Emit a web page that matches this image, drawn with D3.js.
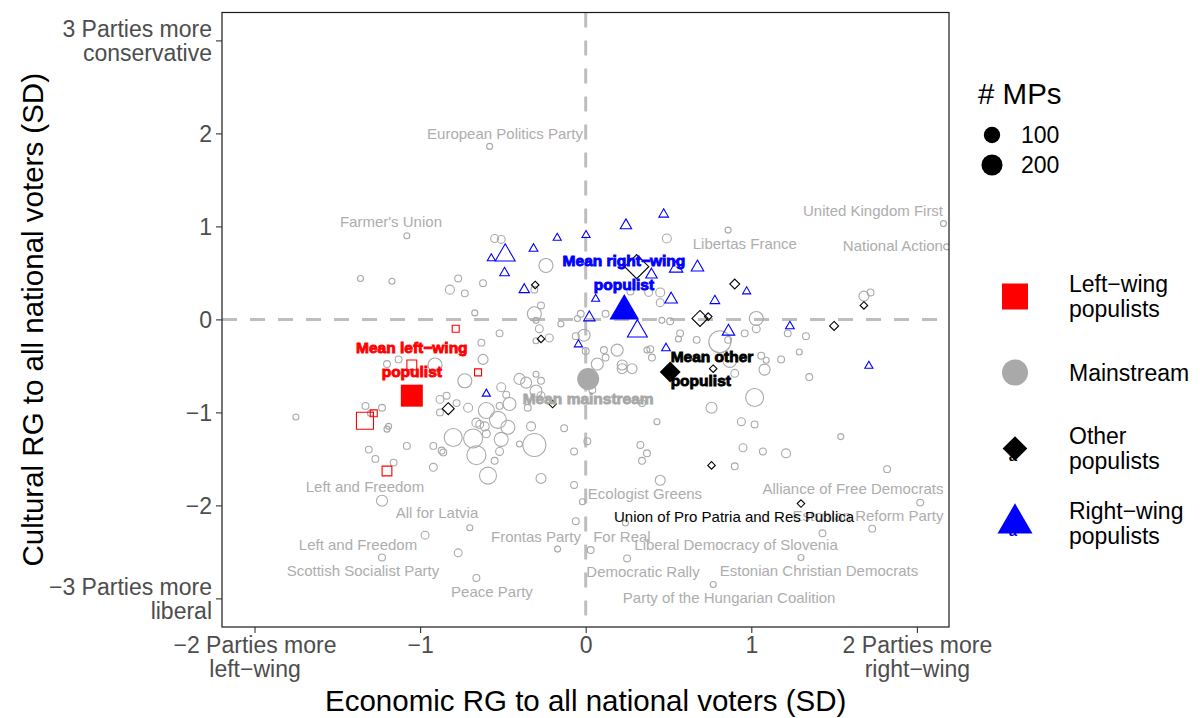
<!DOCTYPE html>
<html><head><meta charset="utf-8">
<script src="https://cdn.jsdelivr.net/npm/d3@7"></script>
<style>body{margin:0;background:#fff} svg{display:block} text{font-family:"Liberation Sans",Arial,Helvetica,sans-serif}</style>
</head><body><svg id="c" width="1200" height="718"></svg>
<script>
// ---- data: [economic RG, cultural RG, # MPs] ----
const mainstream = [
[-0.58,1.86,1],[-1.08,0.90,1],[-0.55,0.87,7],[-0.51,0.86,7],[-0.24,0.58,64],[-1.36,0.44,1],[-1.17,0.41,1],
[-0.77,0.44,3],[-0.82,0.32,13],[-0.73,0.28,3],[-0.62,0.39,3],[-0.31,0.32,3],[-0.27,0.15,3],[-0.31,0.06,64],
[-0.67,0.07,1],[-0.03,0.06,3],[-0.05,0.01,1],[-0.30,-0.01,1],[-0.15,-0.05,1],[0.49,0.87,13],[0.86,0.96,1],
[2.16,1.03,1],[2.18,0.78,1],[1.68,0.25,20],[1.72,0.29,3],[0.27,0.30,3],[0.38,0.29,7],[0.45,0.29,13],
[0.45,0.18,7],[0.12,0.06,3],[0.46,-0.01,1],[0.51,-0.02,3],[1.03,0.01,64],[1.03,-0.10,7],[1.22,-0.15,3],
[1.33,-0.18,3],[0.96,-0.15,3],[0.81,-0.24,223],[0.86,-0.22,3],[0.67,-0.22,3],[0.57,-0.15,3],[0.56,-0.21,1],
[1.29,-0.35,1],[1.18,-0.43,3],[1.06,-0.39,3],[1.09,-0.44,1],[1.08,-0.54,29],[1.35,-0.62,3],[1.02,-0.84,131],
[0.87,-0.44,64],[0.90,-0.58,7],[0.76,-0.95,29],[0.43,-1.10,1],[0.94,-1.10,7],[1.02,-1.13,3],[1.54,-1.26,1],
[0.01,-1.31,3],[0.33,-1.35,3],[0.37,-1.44,3],[0.34,-1.52,3],[0.95,-1.38,7],[1.07,-1.42,3],[1.21,-1.44,13],
[0.90,-1.58,3],[1.82,-1.61,3],[0.45,-1.73,20],[2.02,-1.97,3],[0.24,-2.19,1],[1.43,-2.30,3],[1.73,-2.25,3],
[0.03,-2.48,3],[0.25,-2.57,3],[1.30,-2.56,1],[0.77,-2.85,1],[-0.02,-1.96,1],[-0.52,-0.15,3],[-0.63,-0.25,3],
[-0.62,-0.43,20],[-0.28,-0.10,7],[-0.22,-0.20,7],[-0.30,-0.23,1],[-0.06,-0.18,3],[-0.01,-0.17,39],[0.00,-0.34,3],
[-1.20,-0.48,3],[-1.13,-0.43,3],[-0.91,-0.49,64],[-0.73,-0.66,64],[-0.40,-0.64,29],[-0.36,-0.68,29],
[-0.27,-0.66,3],[-0.30,-0.59,1],[-0.51,-0.73,13],[-0.48,-0.81,3],[-0.30,-0.77,39],[-0.27,-0.82,7],
[-1.75,-1.05,1],[-1.33,-0.93,3],[-1.23,-0.95,3],[-1.30,-1.01,1],[-1.20,-1.18,1],[-1.19,-1.15,1],
[-1.31,-1.40,3],[-1.27,-1.50,3],[-1.16,-1.54,3],[-1.08,-1.36,3],[-0.92,-1.36,3],[-0.92,-1.59,7],
[-1.23,-1.95,29],[-0.88,-0.86,7],[-0.84,-0.82,3],[-0.78,-0.90,3],[-0.88,-1.00,3],[-0.71,-0.95,13],
[-0.60,-0.98,94],[-0.53,-1.08,112],[-0.46,-0.91,50],[-0.52,-0.93,3],[-0.47,-1.16,64],[-0.66,-1.11,13],
[-0.64,-1.13,7],[-0.61,-1.15,13],[-0.60,-1.23,7],[-0.80,-1.27,131],[-0.68,-1.28,152],[-0.51,-1.29,64],
[-0.66,-1.46,152],[-0.31,-1.35,250],[-0.40,-1.34,1],[-0.35,-0.95,3],[-0.33,-1.15,13],[-0.13,-1.17,3],
[-0.87,-1.41,3],[-0.86,-1.43,3],[-0.52,-1.42,7],[-0.55,-1.52,3],[-0.59,-1.68,112],[-0.27,-1.71,20],
[-0.07,-1.42,3],[-0.07,-1.78,3],[-0.06,-2.17,3],[-0.70,-2.24,1],[-0.97,-2.32,7],[-0.17,-2.47,1],
[-0.77,-2.51,7],[-1.23,-2.56,3],[-0.66,-2.78,3],[0.19,-0.33,39],[0.11,-0.33,3],[0.12,-0.41,3],
[0.07,-0.48,39],[0.22,-0.49,20],[0.22,-0.53,20],[0.28,-0.53,20],[0.39,-0.32,3],[0.40,-0.41,3],
[0.37,-0.33,1],[0.04,-0.76,3],[0.25,-0.87,3],[0.34,-0.90,3]
];
const leftPopulists = [
[-0.785,-0.10,7],[-1.05,-0.49,30],[-0.65,-0.57,7],[-1.28,-1.01,7],[-1.333,-1.09,157],[-1.20,-1.63,29]
];
const otherPopulists = [
[-0.305,0.37,1],[-0.27,-0.21,1],[-0.83,-0.96,17],[-0.20,-0.91,1],[0.308,0.567,157],[0.90,0.38,7],
[1.68,0.15,1],[0.69,0.01,48],[0.74,0.03,1],[1.50,-0.07,4],[0.77,-0.53,1],[0.76,-1.57,1],[1.30,-1.98,1]
];
const rightPopulists = [
[-0.486,0.69,75],[-0.57,0.655,1],[-0.315,0.76,2],[-0.172,0.876,1],[0.002,0.905,1],[-0.49,0.50,4],
[-0.371,0.32,6],[0.243,1.01,10],[0.471,1.13,4],[0.675,0.56,15],[0.546,0.55,20],[0.397,0.48,10],
[0.06,0.22,1],[0.516,0.215,15],[0.78,0.20,4],[0.972,0.30,1],[0.022,0.02,10],[0.312,-0.127,75],
[0.862,-0.13,15],[0.485,-0.31,2],[1.233,-0.074,2],[1.71,-0.50,1],[-0.044,-0.27,1],[-0.60,-0.80,1]
];
const meanGroups = ["Left-wing populists","Mainstream","Other populists","Right-wing populists"];
const meanX = [-1.05, 0.015, 0.51, 0.233];
const meanY = [-0.82, -0.64, -0.565, 0.09];
const meanLabels = [["Mean left−wing","populist"],["Mean mainstream"],["Mean other","populist"],["Mean right−wing","populist"]];
const meanLabelX = [-1.05, 0.015, 0.513, 0.231];
const meanLabelY = [-0.304, -0.845, -0.40, 0.639];
const partyNames = ["European Politics Party","Farmer's Union","United Kingdom First","Libertas France","National Action",
 "Left and Freedom","All for Latvia","Left and Freedom","Scottish Socialist Party","Peace Party","Frontas Party","For Real",
 "Ecologist Greens","Democratic Rally","Liberal Democracy of Slovenia","Party of the Hungarian Coalition",
 "Alliance of Free Democrats","Estonian Reform Party","Estonian Christian Democrats","Union of Pro Patria and Res Publica"];
const partyLabelX = [-0.487,-1.176,1.735,0.961,1.855,-1.333,-0.898,-1.375,-1.345,-0.566,-0.300,0.219,0.358,0.346,0.908,0.866,1.614,1.705,1.409,0.896];
const partyLabelY = [2.00,1.047,1.166,0.811,0.789,-1.802,-2.082,-2.426,-2.706,-2.932,-2.340,-2.340,-1.878,-2.716,-2.426,-2.996,-1.823,-2.114,-2.706,-2.125];
const partyIsPopulist = [0,0,0,0,0,0,0,0,0,0,0,0,0,0,0,0,0,0,0,1];
const xTicks = [-2,-1,0,1,2];
const xTickLabels = [["−2 Parties more","left−wing"],["−1"],["0"],["1"],["2 Parties more","right−wing"]];
const yTicks = [-3,-2,-1,0,1,2,3];
const yTickLabels = [["−3 Parties more","liberal"],["−2"],["−1"],["0"],["1"],["2"],["3 Parties more","conservative"]];
const sizeBreaks = [100, 200];
const legendLabels = [["Left−wing","populists"],["Mainstream"],["Other","populists"],["Right−wing","populists"]];

// ---- styles ----
const colors = {left:"#FF0000", main:"#A9A9A9", other:"#000000", right:"#0000FF"};
const groupColor = [colors.left, colors.main, colors.other, colors.right];
const groupShape = ["square","circle","diamond","triangle"];
const svg = d3.select("#c");
const L = 222, R = 949, T = 12.5, B = 627;
const x = d3.scaleLinear().domain([-(585.7-L)/165.6, (R-585.7)/165.6]).range([L, R]);
const y = d3.scaleLinear().domain([-(B-319.4)/93, (319.4-T)/93]).range([B, T]);
const rScale = d3.scaleSqrt().domain([1, 250]).range([3, 11.5]);

function hollowPath(shape, rc){
  if(shape==="triangle") return `M0,${-1.555*rc}L${1.347*rc},${0.777*rc}L${-1.347*rc},${0.777*rc}Z`;
  if(shape==="square"){const h=0.886*rc; return `M${-h},${-h}H${h}V${h}H${-h}Z`;}
  if(shape==="diamond"){const h=1.253*rc; return `M0,${-h}L${h},0L0,${h}L${-h},0Z`;}
  return d3.arc()({innerRadius:0,outerRadius:rc,startAngle:0,endAngle:2*Math.PI});
}
function filledPath(shape, rc){
  if(shape==="triangle") return `M0,${-1.555*rc}L${1.347*rc},${0.777*rc}L${-1.347*rc},${0.777*rc}Z`;
  if(shape==="square"){const h=1.0*rc; return `M${-h},${-h}H${h}V${h}H${-h}Z`;}
  if(shape==="diamond"){const h=0.95*rc; return `M0,${-h}L${h},0L0,${h}L${-h},0Z`;}
  return d3.arc()({innerRadius:0,outerRadius:rc,startAngle:0,endAngle:2*Math.PI});
}

// panel clip
svg.append("clipPath").attr("id","pc").append("rect").attr("x",L).attr("y",T).attr("width",R-L).attr("height",B-T);

// reference lines
const refG = svg.append("g").attr("clip-path","url(#pc)");
refG.append("line").attr("x1",L).attr("x2",R).attr("y1",y(0)).attr("y2",y(0))
  .attr("stroke","#BEBEBE").attr("stroke-width",3).attr("stroke-dasharray","15,13");
refG.append("line").attr("x1",x(0)).attr("x2",x(0)).attr("y1",T).attr("y2",B)
  .attr("stroke","#BEBEBE").attr("stroke-width",3).attr("stroke-dasharray","15,13");

// points
const ptG = svg.append("g").attr("clip-path","url(#pc)");
function drawGroup(data, shape, color){
  ptG.selectAll(null).data(data).enter().append("path")
    .attr("transform", d=>`translate(${x(d[0])},${y(d[1])})`)
    .attr("d", d=>hollowPath(shape, rScale(d[2])))
    .attr("fill","none").attr("stroke",color).attr("stroke-width",1.1);
}
drawGroup(mainstream,"circle",colors.main);
drawGroup(leftPopulists,"square",colors.left);
drawGroup(otherPopulists,"diamond",colors.other);
drawGroup(rightPopulists,"triangle",colors.right);

// party labels
svg.append("g").attr("clip-path","url(#pc)").selectAll("text").data(partyNames).enter().append("text")
  .attr("x",(d,i)=>x(partyLabelX[i])).attr("y",(d,i)=>y(partyLabelY[i])).attr("dy","0.36em")
  .attr("text-anchor","middle").attr("font-size",15)
  .attr("fill",(d,i)=>partyIsPopulist[i]?"#000000":"#ADADAD").text(d=>d);

// means
const meanRc = 11;
svg.append("g").selectAll("path").data(meanGroups).enter().append("path")
  .attr("transform",(d,i)=>`translate(${x(meanX[i])},${y(meanY[i])})`)
  .attr("d",(d,i)=>filledPath(groupShape[i], meanRc))
  .attr("fill",(d,i)=>groupColor[i]);
const anchors = ["middle","middle","start","middle"];
const mlG = svg.append("g");
meanLabels.forEach((lines,i)=>{
  const t = mlG.append("text").attr("text-anchor",anchors[i]).attr("font-size",15.5).attr("font-weight","bold")
    .attr("fill",groupColor[i]).attr("stroke",groupColor[i]).attr("stroke-width",0.9);
  lines.forEach((s,j)=>t.append("tspan").attr("x",x(meanLabelX[i])).attr("y",y(meanLabelY[i])+24*j).attr("dy","0.36em").text(s));
});

// panel border
svg.append("rect").attr("x",L).attr("y",T).attr("width",R-L).attr("height",B-T)
  .attr("fill","none").attr("stroke","#1a1a1a").attr("stroke-width",1.2);

// axes
const xAxis = svg.append("g").attr("transform",`translate(0,${B})`)
  .call(d3.axisBottom(x).tickValues(xTicks).tickSize(6).tickFormat(""));
const yAxis = svg.append("g").attr("transform",`translate(${L},0)`)
  .call(d3.axisLeft(y).tickValues(yTicks).tickSize(6).tickFormat(""));
[xAxis,yAxis].forEach(a=>{a.select(".domain").remove(); a.selectAll(".tick line").attr("stroke","#333333").attr("stroke-width",1.1);});
xAxis.selectAll(".tick").each(function(d,i){
  const t = d3.select(this).append("text").attr("fill","#4D4D4D").attr("font-size",23).attr("text-anchor","middle");
  xTickLabels[i].forEach((s,j)=>t.append("tspan").attr("x",0).attr("y",18+24*j).attr("dy","0.36em").text(s));
});
yAxis.selectAll(".tick").each(function(d,i){
  const lines = yTickLabels[i];
  const t = d3.select(this).append("text").attr("fill","#4D4D4D").attr("font-size",23).attr("text-anchor","end");
  const off = (lines.length-1)*12;
  lines.forEach((s,j)=>t.append("tspan").attr("x",-10).attr("y",-off+24*j).attr("dy","0.36em").text(s));
});
svg.append("text").attr("x",x(0)).attr("y",711).attr("text-anchor","middle").attr("font-size",29.5)
  .attr("fill","#000").text("Economic RG to all national voters (SD)");
svg.append("text").attr("transform",`translate(43,${(T+B)/2}) rotate(-90)`).attr("text-anchor","middle")
  .attr("font-size",29.5).attr("fill","#000").text("Cultural RG to all national voters (SD)");

// size legend
const lg = svg.append("g");
lg.append("text").attr("x",978).attr("y",104).attr("font-size",29.5).attr("fill","#000").text("# MPs");
sizeBreaks.forEach((n,i)=>{
  const cy = 135 + 30*i;
  lg.append("circle").attr("cx",992).attr("cy",cy).attr("r",rScale(n)).attr("fill","#000");
  lg.append("text").attr("x",1021).attr("y",cy).attr("dy","0.36em").attr("font-size",23).attr("fill","#000").text(n);
});
// group legend
const keyY = [296.5, 372.5, 448.5, 523.5];
meanGroups.forEach((g,i)=>{
  lg.append("path").attr("transform",`translate(1015,${keyY[i]})`).attr("d",filledPath(groupShape[i],13)).attr("fill",groupColor[i]);
  lg.append("text").attr("x",1013).attr("y",keyY[i]+7).attr("dy","0.36em").attr("text-anchor","middle")
    .attr("font-size",15).attr("font-weight","bold").attr("fill",groupColor[i]).text("a");
  const lines = legendLabels[i];
  const t = lg.append("text").attr("font-size",23).attr("fill","#000");
  const off = (lines.length-1)*12.5;
  lines.forEach((s,j)=>t.append("tspan").attr("x",1069).attr("y",keyY[i]-off+25*j).attr("dy","0.36em").text(s));
});
</script></body></html>
